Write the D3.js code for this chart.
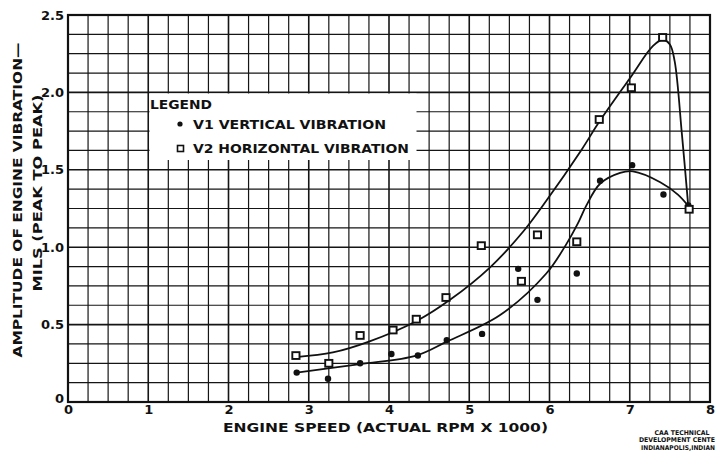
<!DOCTYPE html>
<html><head><meta charset="utf-8">
<title>Engine vibration vs speed</title>
<script src="https://d3js.org/d3.v7.min.js"></script>
<style>
  body { margin: 0; background: #fff; }
  text { font-family: "DejaVu Sans", sans-serif; font-weight: bold; fill: #111; }
  .grid line { stroke: #151515; }
</style>
</head>
<body>
<svg id="chart" width="723" height="455"></svg>
<script>

// ---- data ----
const xTicks = [0, 1, 2, 3, 4, 5, 6, 7, 8];
const yTicks = [0, 0.5, 1, 1.5, 2, 2.5];
const yTickLabels = ["0", "0.5", "1.0", "1.5", "2.0", "2.5"];

// V1 vertical vibration (dots)
const rpmV1 = [2.85, 3.24, 3.64, 4.03, 4.36, 4.72, 5.16, 5.61, 5.85, 6.34, 6.63, 7.03, 7.42, 7.73];
const ampV1 = [0.19, 0.15, 0.25, 0.31, 0.30, 0.40, 0.44, 0.86, 0.66, 0.83, 1.43, 1.53, 1.34, 1.27];

// V2 horizontal vibration (squares)
const rpmV2 = [2.84, 3.25, 3.64, 4.05, 4.34, 4.71, 5.15, 5.65, 5.85, 6.34, 6.62, 7.02, 7.41, 7.74];
const ampV2 = [0.30, 0.25, 0.43, 0.465, 0.535, 0.675, 1.01, 0.78, 1.08, 1.035, 1.825, 2.03, 2.355, 1.245];

// hand drawn fair curves
const curveV1 = [[2.85, 0.19], [3.64, 0.245], [4.34, 0.30], [4.72, 0.39], [5.38, 0.56], [5.96, 0.83],
                 [6.21, 1.02], [6.36, 1.16], [6.46, 1.27], [6.63, 1.41], [6.88, 1.48], [7.04, 1.49],
                 [7.38, 1.42], [7.6, 1.34], [7.74, 1.26]];
const curveV2 = [[2.84, 0.29], [3.3, 0.32], [3.75, 0.39], [4.35, 0.525], [4.76, 0.66], [5.26, 0.87],
                 [5.67, 1.10], [5.96, 1.30], [6.40, 1.63], [6.62, 1.81], [7.0, 2.09], [7.29, 2.30],
                 [7.41, 2.34], [7.5, 2.31], [7.56, 2.2], [7.65, 1.73], [7.73, 1.26]];

const svg = d3.select("#chart");
const x = d3.scaleLinear().domain([0, 8]).range([68, 710]);
const y = d3.scaleLinear().domain([0, 2.5]).range([402, 15]);

// graph paper grid: 0.25 in x, 0.125 in y
const grid = svg.append("g").attr("class", "grid");
d3.range(0, 8.001, 0.25).forEach(v => {
  grid.append("line")
    .attr("x1", x(v)).attr("x2", x(v)).attr("y1", y(0)).attr("y2", y(2.5))
    .attr("stroke-width", Math.abs(v - Math.round(v)) < 1e-6 ? 1.6 : 1.2);
});
d3.range(0, 2.501, 0.125).forEach(v => {
  grid.append("line")
    .attr("x1", x(0)).attr("x2", x(8)).attr("y1", y(v)).attr("y2", y(v))
    .attr("stroke-width", Math.abs(v * 2 - Math.round(v * 2)) < 1e-6 ? 1.6 : 1.2);
});

// frame
svg.append("rect")
  .attr("x", x(0)).attr("y", y(2.5))
  .attr("width", x(8) - x(0)).attr("height", y(0) - y(2.5))
  .attr("fill", "none").attr("stroke", "#111").attr("stroke-width", 2.2);

// legend block (paper left blank)
const lg = svg.append("g");
lg.append("rect").attr("x", 149.5).attr("y", 93.5).attr("width", 267).attr("height", 66.5).attr("fill", "#fff");
lg.append("text").attr("x", 150).attr("y", 108.5).attr("font-size", 12)
  .attr("textLength", 62).attr("lengthAdjust", "spacingAndGlyphs").text("LEGEND");
lg.append("circle").attr("cx", 180).attr("cy", 124).attr("r", 2.6).attr("fill", "#111");
lg.append("text").attr("x", 193).attr("y", 129.2).attr("font-size", 13)
  .attr("textLength", 193).attr("lengthAdjust", "spacingAndGlyphs").text("V1 VERTICAL VIBRATION");
lg.append("rect").attr("x", 177.5).attr("y", 145.5).attr("width", 6).attr("height", 6)
  .attr("fill", "#fff").attr("stroke", "#111").attr("stroke-width", 1.6);
lg.append("text").attr("x", 193).attr("y", 152.8).attr("font-size", 13)
  .attr("textLength", 216).attr("lengthAdjust", "spacingAndGlyphs").text("V2 HORIZONTAL VIBRATION");

// fair curves
const line = d3.line().x(d => x(d[0])).y(d => y(d[1])).curve(d3.curveCatmullRom.alpha(0.5));
[curveV1, curveV2].forEach(c => {
  svg.append("path").attr("d", line(c)).attr("fill", "none")
    .attr("stroke", "#111").attr("stroke-width", 1.8);
});

// points
svg.append("g").selectAll("circle").data(rpmV1.map((r, i) => [r, ampV1[i]])).join("circle")
  .attr("cx", d => x(d[0])).attr("cy", d => y(d[1])).attr("r", 3.2).attr("fill", "#111");
svg.append("g").selectAll("rect").data(rpmV2.map((r, i) => [r, ampV2[i]])).join("rect")
  .attr("x", d => x(d[0]) - 3.6).attr("y", d => y(d[1]) - 3.4)
  .attr("width", 7.2).attr("height", 6.8)
  .attr("fill", "#fff").attr("stroke", "#111").attr("stroke-width", 1.9);

// axes labels
const xAxis = svg.append("g").attr("transform", `translate(0,${y(0)})`)
  .call(d3.axisBottom(x).tickValues(xTicks).tickSize(0).tickPadding(3).tickFormat(d3.format("d")));
xAxis.select(".domain").remove();
xAxis.selectAll("text").attr("font-size", 13).attr("fill", "#111")
  .style("font-family", "DejaVu Sans, sans-serif").style("font-weight", "bold");

const yAxis = svg.append("g").attr("transform", `translate(${x(0)},0)`)
  .call(d3.axisLeft(y).tickValues(yTicks).tickSize(0).tickPadding(4)
    .tickFormat((d, i) => yTickLabels[i]));
yAxis.select(".domain").remove();
yAxis.selectAll("text").attr("font-size", 13).attr("fill", "#111")
  .style("font-family", "DejaVu Sans, sans-serif").style("font-weight", "bold");
yAxis.selectAll(".tick").filter(d => d === 0).select("text").attr("dy", "0.05em");

// titles
svg.append("text").attr("x", 223).attr("y", 432).attr("font-size", 13)
  .attr("textLength", 325).attr("lengthAdjust", "spacingAndGlyphs")
  .text("ENGINE SPEED  (ACTUAL RPM X 1000)");
svg.append("text").attr("transform", "translate(22,200) rotate(-90)")
  .attr("text-anchor", "middle").attr("font-size", 13)
  .attr("textLength", 315).attr("lengthAdjust", "spacingAndGlyphs")
  .text("AMPLITUDE  OF  ENGINE  VIBRATION\u2014");
svg.append("text").attr("transform", "translate(42,193) rotate(-90)")
  .attr("text-anchor", "middle").attr("font-size", 13)
  .attr("textLength", 197).attr("lengthAdjust", "spacingAndGlyphs")
  .text("MILS (PEAK  TO  PEAK)");

// credit block at lower right (cut short at the edge in the source scan)
svg.append("text").attr("x", 682).attr("y", 434.5).attr("font-size", 6.5).attr("text-anchor", "middle")
  .attr("textLength", 55).attr("lengthAdjust", "spacingAndGlyphs").text("CAA TECHNICAL");
svg.append("text").attr("x", 639).attr("y", 442.3).attr("font-size", 6.5)
  .attr("textLength", 76).attr("lengthAdjust", "spacingAndGlyphs").text("DEVELOPMENT CENTE");
svg.append("text").attr("x", 641).attr("y", 450.1).attr("font-size", 6.5)
  .attr("textLength", 74).attr("lengthAdjust", "spacingAndGlyphs").text("INDIANAPOLIS,INDIAN");

</script>
</body>
</html>
